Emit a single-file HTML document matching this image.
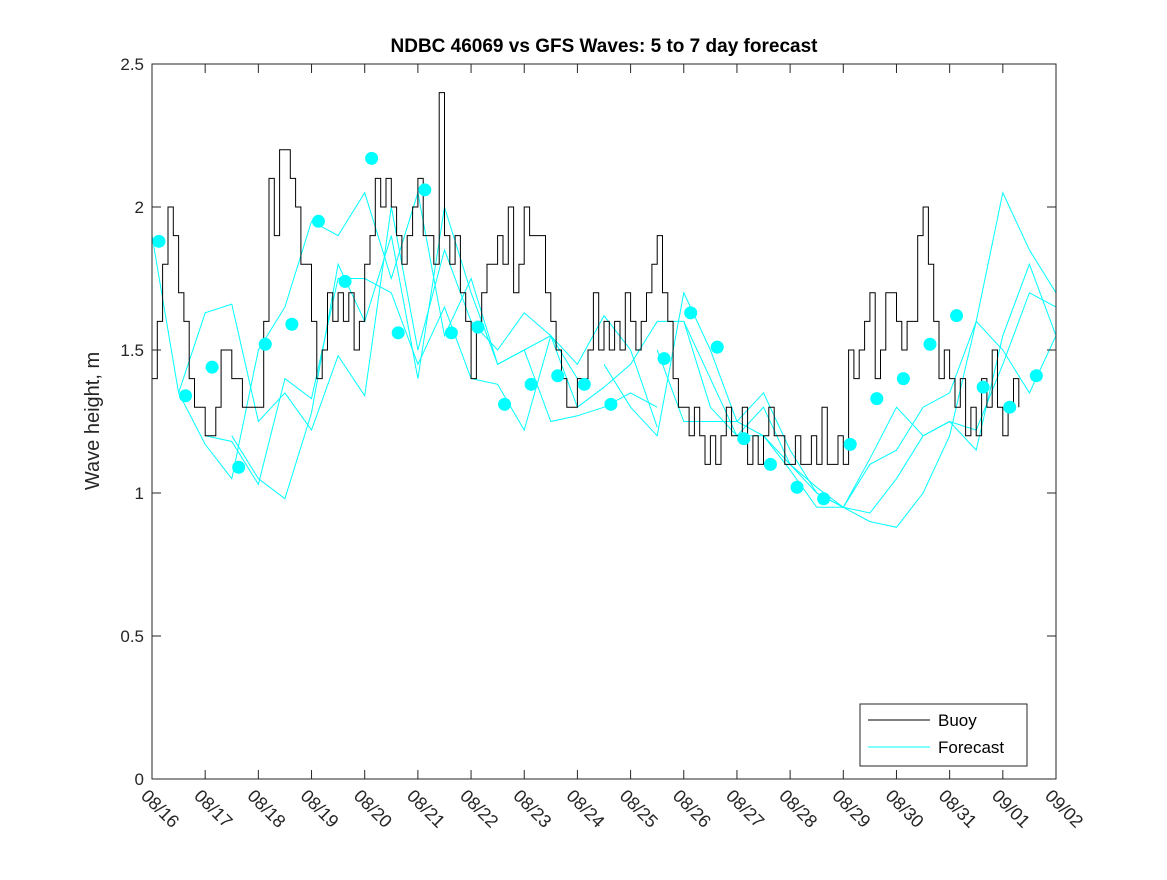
<!DOCTYPE html>
<html><head><meta charset="utf-8"><style>
body{margin:0;background:#fff}
svg{font-family:"Liberation Sans","DejaVu Sans",sans-serif}
</style></head><body>
<svg id="chart" width="1167" height="875" viewBox="0 0 1167 875" xmlns="http://www.w3.org/2000/svg">
<defs><clipPath id="pc"><rect x="152" y="64" width="904" height="715"/></clipPath></defs>
<rect width="1167" height="875" fill="#fff"/>
<text x="604" y="52" text-anchor="middle" font-size="19" font-weight="bold" fill="#000">NDBC 46069 vs GFS Waves: 5 to 7 day forecast</text>
<text transform="translate(99,421) rotate(-90)" text-anchor="middle" font-size="20" fill="#262626">Wave height, m</text>
<g id="forecast" clip-path="url(#pc)"></g>
<g id="buoy" clip-path="url(#pc)"></g>
<g id="dots"></g>
<rect x="152" y="64" width="904" height="715" fill="none" stroke="#262626" stroke-width="1"/>
<g id="axes"></g>
<g>
<rect x="860" y="704" width="167" height="62" fill="#fff" stroke="#262626"/>
<line x1="868" y1="720" x2="930" y2="720" stroke="#000"/>
<text x="938" y="726" font-size="17" fill="#000">Buoy</text>
<line x1="868" y1="747" x2="930" y2="747" stroke="#0ff"/>
<text x="938" y="753" font-size="17" fill="#000">Forecast</text>
</g>
</svg>
<script>
const xTicks=["08/16","08/17","08/18","08/19","08/20","08/21","08/22","08/23","08/24","08/25","08/26","08/27","08/28","08/29","08/30","08/31","09/01","09/02"];
const yTicks=[0,0.5,1,1.5,2,2.5];
const buoyStep=0.1;
const buoy=[1.4,1.6,1.8,2.0,1.9,1.7,1.6,1.4,1.3,1.3,1.2,1.2,1.3,1.5,1.5,1.4,1.4,1.3,1.3,1.3,
1.3,1.6,2.1,1.9,2.2,2.2,2.1,2.0,1.8,1.8,1.6,1.4,1.5,1.7,1.6,1.7,1.6,1.7,1.5,1.6,
1.8,1.9,2.1,2.0,2.1,2.0,1.9,1.8,1.9,2.0,2.1,1.9,1.9,1.8,2.4,1.9,1.8,1.9,1.7,1.6,
1.4,1.6,1.7,1.8,1.8,1.9,1.8,2.0,1.7,1.8,2.0,1.9,1.9,1.9,1.7,1.6,1.5,1.4,1.3,1.3,
1.4,1.4,1.5,1.7,1.5,1.6,1.5,1.6,1.5,1.7,1.6,1.5,1.6,1.7,1.8,1.9,1.7,1.6,1.4,1.3,
1.3,1.2,1.3,1.2,1.1,1.2,1.1,1.2,1.3,1.2,1.2,1.3,1.1,1.2,1.1,1.2,1.3,1.2,1.2,1.1,
1.1,1.2,1.1,1.1,1.2,1.1,1.3,1.1,1.1,1.2,1.1,1.5,1.4,1.5,1.6,1.7,1.4,1.5,1.7,1.7,
1.6,1.5,1.6,1.6,1.9,2.0,1.8,1.6,1.4,1.5,1.4,1.3,1.4,1.2,1.3,1.2,1.4,1.3,1.5,1.3,
1.2,1.3,1.4,1.3];
const fcStep=0.5;
const fcStarts=[0,0.5,1.0,1.5,8.5,9.5,10.0,10.5];
const fcA=[1.9,1.35,1.17,1.05,1.5,1.65,1.95,1.9,2.05,1.75,2.05,1.55,1.75,1.45,1.5,1.55,1.4];
const fcB=[1.35,1.63,1.66,1.25,1.35,1.22,1.48,1.34,2.0,1.5,1.85,1.6,1.5,1.63,1.55,1.45,1.62,1.5,1.23];
const fcC=[1.2,1.18,1.03,1.4,1.33,1.75,1.75,1.7,1.45,1.65,1.4,1.38,1.22,1.55,1.3,1.37,1.45,1.6,1.6,1.3];
const fcD=[1.2,1.05,0.98,1.28,1.8,1.6,1.9,1.4,2.0,1.7,1.45,1.5,1.25,1.27,1.3,1.35,1.3];
const fcE=[1.45,1.3,1.2,1.7,1.5,1.25,1.2,1.1,1.02,0.95,1.12,1.3,1.2,1.25,1.15,1.55,1.8,1.55];
const fcF=[1.5,1.25,1.25,1.25,1.35,1.15,1.0,0.95,0.93,1.05,1.2,1.25,1.22,1.45,1.7,1.65];
const fcG=[1.6,1.4,1.2,1.2,1.08,0.95,0.95,0.9,0.88,1.0,1.2,1.6,1.5,1.35,1.55];
const fcH=[1.3,1.2,1.3,1.1,1.0,0.95,1.1,1.15,1.3,1.35,1.6,2.05,1.85,1.7];
const dotStart=0.13;
const dotVals=[1.88,1.34,1.44,1.09,1.52,1.59,1.95,1.74,2.17,1.56,2.06,1.56,1.58,1.31,1.38,1.41,1.38,1.31,null,1.47,1.63,1.51,1.19,1.10,1.02,0.98,1.17,1.33,1.40,1.52,1.62,1.37,1.30,1.41];

const NS="http://www.w3.org/2000/svg";
const X0=152,X1=1056,Y0=779,Y1=64;
const xs=d=>X0+d*(X1-X0)/17;
const ys=v=>Y0-v*(Y0-Y1)/2.5;
function mk(t,a,p){const e=document.createElementNS(NS,t);for(const k in a)e.setAttribute(k,a[k]);document.getElementById(p).appendChild(e);return e;}

xTicks.forEach((l,i)=>{
 const x=xs(i);
 const t1=mk('line',{x1:x,y1:Y0,x2:x,y2:Y0-9,stroke:'#262626'},'axes');
 
 
 const t2=mk('line',{x1:x,y1:Y1,x2:x,y2:Y1+9,stroke:'#262626'},'axes');
 
 
 const tx=mk('text',{transform:`translate(${x-12},${Y0+18}) rotate(45)`,'font-size':18,fill:'#262626'},'axes');
 tx.textContent=l;
 
 
});
yTicks.forEach(v=>{
 const y=ys(v);
 const a=mk('line',{x1:X0,y1:y,x2:X0+9,y2:y,stroke:'#262626'},'axes');
 
 
 const b=mk('line',{x1:X1,y1:y,x2:X1-9,y2:y,stroke:'#262626'},'axes');
 
 
 const tx=mk('text',{x:X0-8,y:y+6,'text-anchor':'end','font-size':17,fill:'#262626'},'axes');
 tx.textContent=String(v);
 
 
});

[fcA,fcB,fcC,fcD,fcE,fcF,fcG,fcH].forEach((s,i)=>{
 const pts=s.map((v,j)=>xs(fcStarts[i]+j*fcStep).toFixed(1)+','+ys(v).toFixed(1)).join(' ');
 const p=mk('polyline',{points:pts,fill:'none',stroke:'#00ffff','stroke-width':1},'forecast');
 
 
});

let bp=[];
buoy.forEach((v,i)=>{const x=xs(i*buoyStep),y=ys(v);
 if(i>0){bp.push(x.toFixed(1)+','+ys(buoy[i-1]).toFixed(1));}
 bp.push(x.toFixed(1)+','+y.toFixed(1));});
const bl=mk('polyline',{points:bp.join(' '),fill:'none',stroke:'#000','stroke-width':1},'buoy');



dotVals.forEach((v,i)=>{
 if(v===null)return;
 const c=mk('circle',{cx:xs(dotStart+i*0.5),cy:ys(v),r:6.5,fill:'#00ffff'},'dots');
 
 
});
</script>
</body></html>
